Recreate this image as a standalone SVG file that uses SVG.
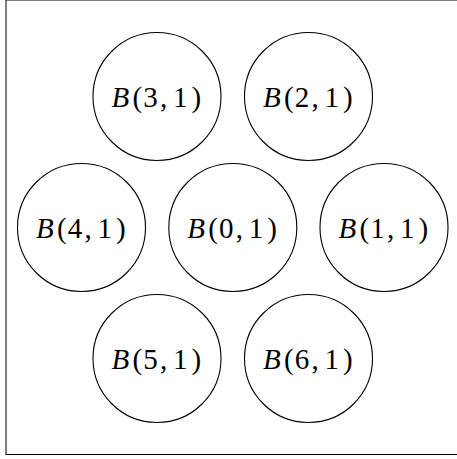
<svg xmlns="http://www.w3.org/2000/svg" width="457" height="459" viewBox="0 0 457 459">
<style>
.n circle{fill:none;stroke:#000;stroke-width:1.1}
.n text{font-family:"Liberation Serif","Times New Roman",serif;font-size:29px;fill:#000}
.it{font-style:italic}
</style>
<rect x="0" y="0" width="457" height="459" fill="#fff"/>
<rect id="frame" x="6" y="0" width="460" height="454.5" fill="none" stroke="#000" stroke-width="1"/>
<g id="connectors"></g>
<g id="B31" class="n" transform="translate(157,96.5)"><circle r="64"/><text y="10.5"><tspan class="it" x="-45.5">B</tspan><tspan x="-24.5 -13.8 3 16 34.5">(3,1)</tspan></text></g>
<g id="B21" class="n" transform="translate(308.5,96.5)"><circle r="64"/><text y="10.5"><tspan class="it" x="-45.5">B</tspan><tspan x="-24.5 -13.8 3 16 34.5">(2,1)</tspan></text></g>
<g id="B41" class="n" transform="translate(81.5,227.5)"><circle r="64"/><text y="10.5"><tspan class="it" x="-45.5">B</tspan><tspan x="-24.5 -13.8 3 16 34.5">(4,1)</tspan></text></g>
<g id="B01" class="n" transform="translate(232.8,227.5)"><circle r="64"/><text y="10.5"><tspan class="it" x="-45.5">B</tspan><tspan x="-24.5 -13.8 3 16 34.5">(0,1)</tspan></text></g>
<g id="B11" class="n" transform="translate(384,227.5)"><circle r="64"/><text y="10.5"><tspan class="it" x="-45.5">B</tspan><tspan x="-24.5 -13.8 3 16 34.5">(1,1)</tspan></text></g>
<g id="B51" class="n" transform="translate(157,358.5)"><circle r="64"/><text y="10.5"><tspan class="it" x="-45.5">B</tspan><tspan x="-24.5 -13.8 3 16 34.5">(5,1)</tspan></text></g>
<g id="B61" class="n" transform="translate(308.5,358.5)"><circle r="64"/><text y="10.5"><tspan class="it" x="-45.5">B</tspan><tspan x="-24.5 -13.8 3 16 34.5">(6,1)</tspan></text></g>
</svg>
